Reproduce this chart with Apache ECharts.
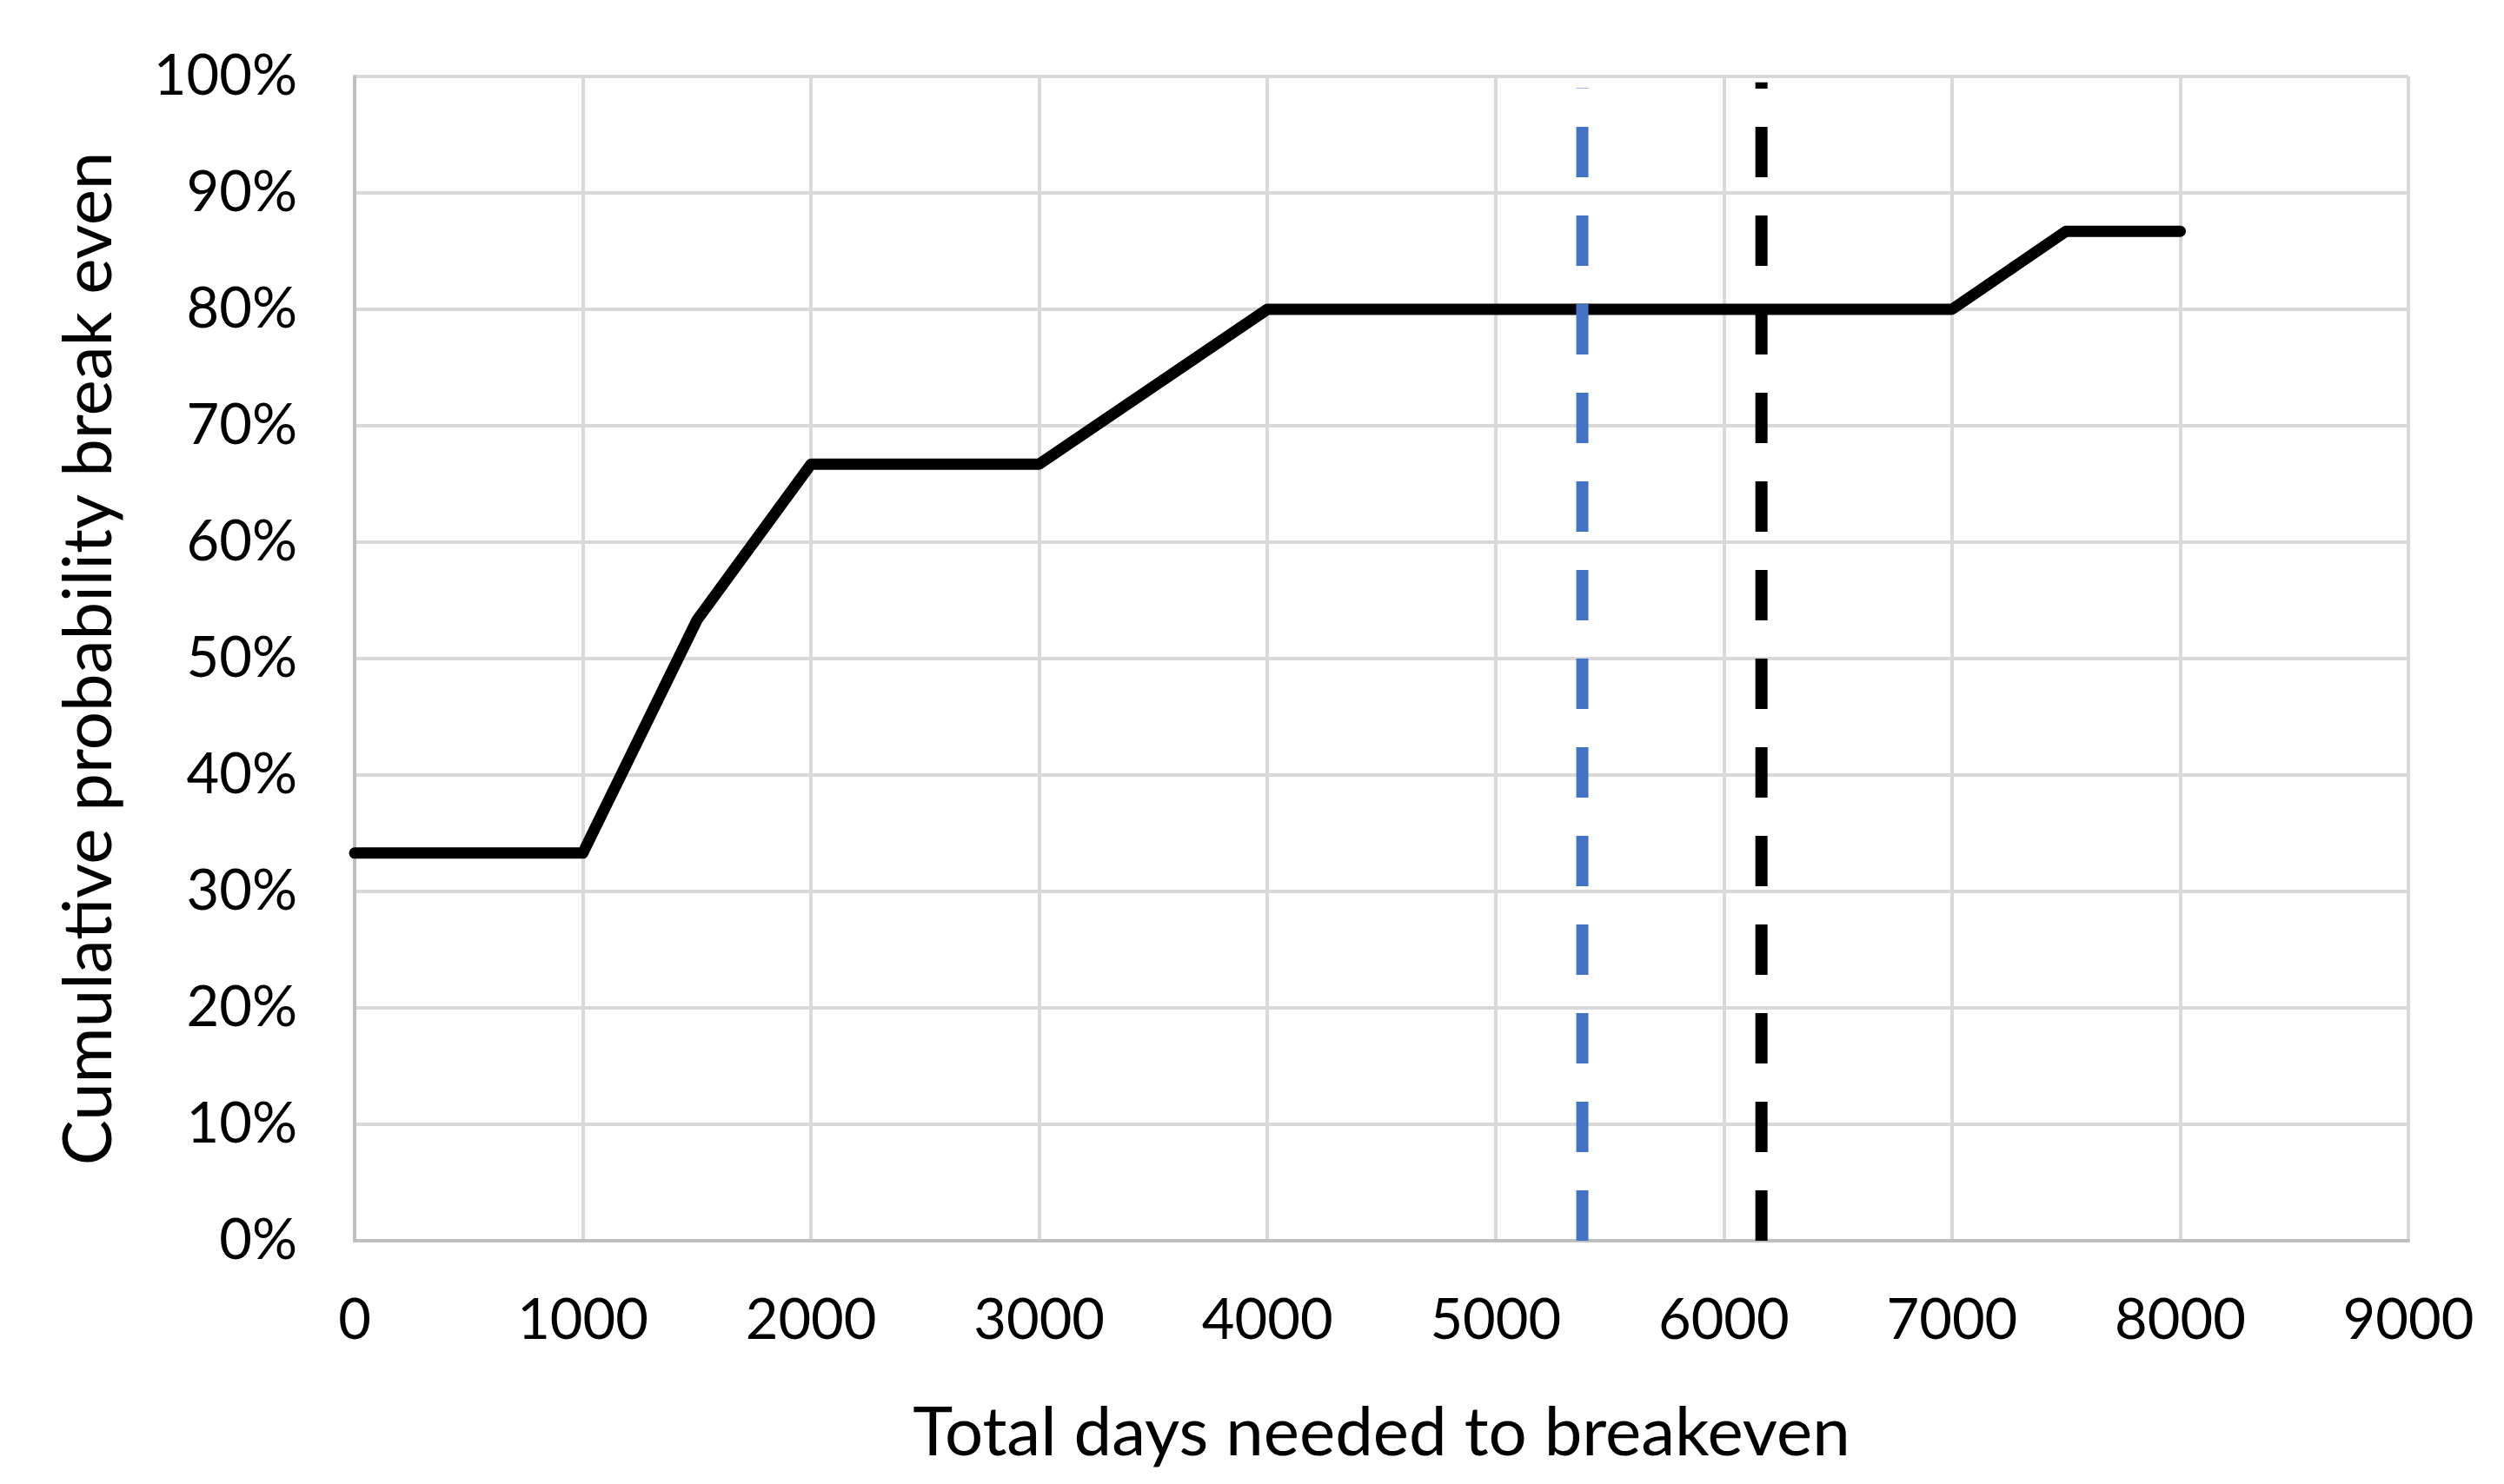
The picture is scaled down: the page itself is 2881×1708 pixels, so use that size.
<!DOCTYPE html>
<html>
<head>
<meta charset="utf-8">
<script src="https://cdn.jsdelivr.net/npm/echarts@6/dist/echarts.min.js"></script>
<style>
  html, body { margin: 0; padding: 0; background: #ffffff; }
  #chart { width: 2881px; height: 1708px; }
</style>
</head>
<body>
<div id="chart"></div>
<script>
// Data
const curveDays = [0, 1000, 1500, 2000, 3000, 4000, 7000, 7500, 8000];
const curveProb = [0.333, 0.333, 0.533, 0.667, 0.667, 0.80, 0.80, 0.867, 0.867];

const blueLineDays = [5380, 5380];
const blueLineProb = [0, 0.99];

const blackLineDays = [6165, 6165];
const blackLineProb = [0, 0.995];

const xTicks = [0, 1000, 2000, 3000, 4000, 5000, 6000, 7000, 8000, 9000];
const yTicks = [0, 0.1, 0.2, 0.3, 0.4, 0.5, 0.6, 0.7, 0.8, 0.9, 1.0];

const xTitle = 'Total days needed to breakeven';
const yTitle = 'Cumulative probability break even';

function pairs(xs, ys) { return xs.map((x, i) => [x, ys[i]]); }

const FONT = 'Lato';
const chart = echarts.init(document.getElementById('chart'), null, { renderer: 'canvas' });

chart.setOption({
  animation: false,
  backgroundColor: '#ffffff',
  grid: { left: 408, right: 110, top: 88, bottom: 280, containLabel: false },
  xAxis: {
    type: 'value',
    min: xTicks[0],
    max: xTicks[xTicks.length - 1],
    interval: 1000,
    name: xTitle,
    nameLocation: 'middle',
    nameGap: 183,
    nameTextStyle: { fontFamily: FONT, fontSize: 78, color: '#000000' },
    axisLine: { show: true, lineStyle: { color: '#bfbfbf', width: 4 } },
    axisTick: { show: false },
    axisLabel: {
      fontFamily: FONT, fontSize: 65, color: '#000000', margin: 60,
      formatter: v => String(Math.round(v))
    },
    splitLine: { show: true, lineStyle: { color: '#d9d9d9', width: 4 } }
  },
  yAxis: {
    type: 'value',
    min: yTicks[0],
    max: yTicks[yTicks.length - 1],
    interval: 0.1,
    name: yTitle,
    nameLocation: 'middle',
    nameGap: 266,
    nameRotate: 90,
    nameTextStyle: { fontFamily: FONT, fontSize: 78, color: '#000000' },
    axisLine: { show: true, lineStyle: { color: '#bfbfbf', width: 4 } },
    axisTick: { show: false },
    axisLabel: {
      fontFamily: FONT, fontSize: 65, color: '#000000', margin: 66,
      formatter: v => Math.round(v * 100) + '%'
    },
    splitLine: { show: true, lineStyle: { color: '#d9d9d9', width: 4 } }
  },
  series: [
    {
      type: 'line',
      data: pairs(curveDays, curveProb),
      showSymbol: false,
      symbol: 'none',
      lineStyle: { color: '#000000', width: 13, cap: 'round', join: 'round' },
      z: 3
    },
    {
      type: 'line',
      data: pairs(blueLineDays, blueLineProb),
      showSymbol: false,
      symbol: 'none',
      lineStyle: { color: '#4472C4', width: 14, type: [58, 44], cap: 'butt' },
      z: 4
    },
    {
      type: 'line',
      data: pairs(blackLineDays, blackLineProb),
      showSymbol: false,
      symbol: 'none',
      lineStyle: { color: '#000000', width: 14, type: [58, 44], cap: 'butt' },
      z: 4
    }
  ]
});
</script>
</body>
</html>
